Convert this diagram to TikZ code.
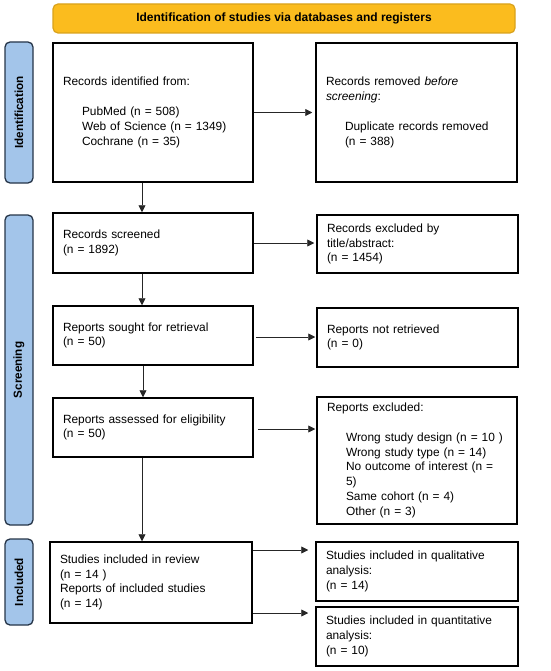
\documentclass[tikz,border=0pt]{standalone}
\usepackage{fontspec}
\setmainfont{Liberation Sans}
\usetikzlibrary{arrows.meta}
\definecolor{bannerfill}{HTML}{FBBC1E}
\definecolor{bannerdraw}{HTML}{D9A21C}
\definecolor{sidefill}{HTML}{A3C5EA}
\definecolor{sidedraw}{HTML}{263548}
\tikzset{
  box/.style={draw=black, line width=1.5pt, fill=white, align=left, inner xsep=10pt, inner ysep=0pt,
    font=\fontsize{11.9}{14.8}\selectfont},
  side/.style={draw=sidedraw, line width=1.3pt, fill=sidefill, rounded corners=5pt, inner sep=0pt,
    font=\fontsize{11.7}{14}\selectfont\bfseries},
  arr/.style={draw=black!85, line width=0.8pt, -{Triangle[length=7pt,width=7pt]}},
}
\newcommand\ind{\hspace*{19pt}}
\begin{document}
\begin{tikzpicture}[x=1pt,y=-1pt]
\useasboundingbox (0,0) rectangle (550,671);
% banner
\node[draw=bannerdraw, line width=1.2pt, fill=bannerfill, rounded corners=5pt,
  minimum width=462pt, minimum height=29pt, inner sep=0pt,
  font=\fontsize{12}{14}\selectfont\bfseries] (banner) at (284,18.5)
  {Identification of studies via databases and registers};
% side labels
\node[side, minimum width=28pt, minimum height=141pt] (sid) at (19,112.5)
  {\rotatebox{90}{Identification}};
\node[side, minimum width=28pt, minimum height=310pt] (sscr) at (19,370)
  {\rotatebox{90}{Screening}};
\node[side, minimum width=28pt, minimum height=86pt] (sinc) at (19,582)
  {\rotatebox{90}{Included}};
% boxes
\node[box, text width=180pt, minimum height=139pt] (A) at (153,112.5)
  {Records identified from:\\[14.8pt]
   \ind PubMed (n = 508)\\
   \ind Web of Science (n = 1349)\\
   \ind Cochrane (n = 35)};
\node[box, text width=181pt, minimum height=139pt] (B) at (416.5,112.5)
  {Records removed \emph{before}\\
   \emph{screening}:\\[14.8pt]
   \ind Duplicate records removed\\
   \ind (n = 388)};
\node[box, text width=180pt, minimum height=60pt] (C) at (153,243)
  {Records screened\\(n = 1892)};
\node[box, text width=181pt, minimum height=58pt] (D) at (417.5,244)
  {Records excluded by\\title/abstract:\\(n = 1454)};
\node[box, text width=180pt, minimum height=59pt] (E) at (153,335.5)
  {Reports sought for retrieval\\(n = 50)};
\node[box, text width=181pt, minimum height=59pt] (F) at (417.5,337.5)
  {Reports not retrieved\\(n = 0)};
\node[box, text width=180pt, minimum height=59pt] (G) at (153,427.5)
  {Reports assessed for eligibility\\(n = 50)};
\node[box, text width=180pt, minimum height=127pt] (H) at (417,460.5)
  {Reports excluded:\\[14.8pt]
   \ind Wrong study design (n = 10 )\\
   \ind Wrong study type (n = 14)\\
   \ind No outcome of interest (n =\\
   \ind 5)\\
   \ind Same cohort (n = 4)\\
   \ind Other (n = 3)};
\node[box, text width=182pt, minimum height=81pt] (I) at (151,582.5)
  {Studies included in review\\(n = 14 )\\Reports of included studies\\(n = 14)};
\node[box, text width=182pt, minimum height=59pt] (J) at (417,571.5)
  {Studies included in qualitative\\analysis:\\(n = 14)};
\node[box, text width=182pt, minimum height=59pt] (K) at (417,636.5)
  {Studies included in quantitative\\analysis:\\(n = 10)};
% connectors
\draw[arr, shorten >=3pt] (A.east) -- (A.east -| B.west);
\draw[arr] ([xshift=-11pt]A.south) -- ([xshift=-11pt]A.south |- C.north);
\draw[arr, shorten >=2pt] (C.east) -- (C.east -| D.west);
\draw[arr] ([xshift=-11pt]C.south) -- ([xshift=-11pt]C.south |- E.north);
\draw[arr, shorten <=2pt, shorten >=1pt] ([yshift=-1.5pt]E.east) -- ([yshift=-1.5pt]E.east -| F.west);
\draw[arr] ([xshift=-10pt]E.south) -- ([xshift=-10pt]E.south |- G.north);
\draw[arr, shorten <=4pt, shorten >=1pt] ([yshift=-1.5pt]G.east) -- ([yshift=-1.5pt]G.east -| H.west);
\draw[arr] ([xshift=-11pt]G.south) -- ([xshift=-9pt]I.north);
\draw[arr, shorten >=7pt] ([yshift=32.5pt]I.east) -- ([yshift=32.5pt]I.east -| J.west);
\draw[arr, shorten >=7pt] ([yshift=-30.5pt]I.east) -- ([yshift=-30.5pt]I.east -| K.west);
\end{tikzpicture}
\end{document}
